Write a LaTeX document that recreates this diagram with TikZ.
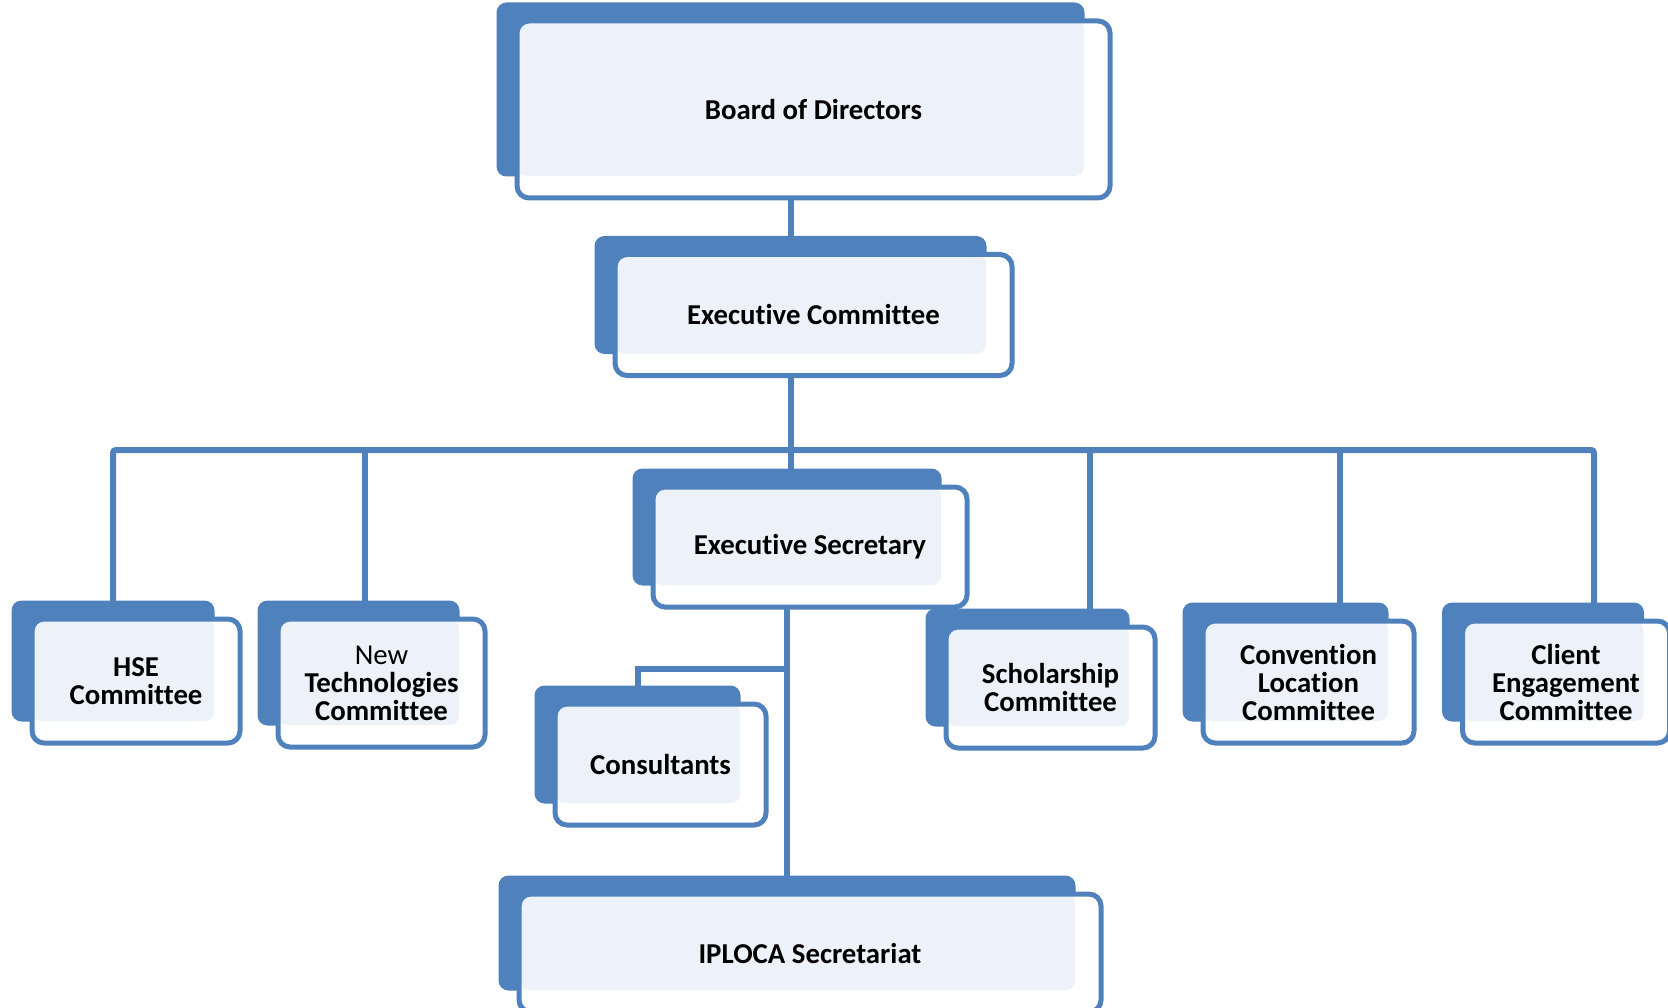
\documentclass[tikz,border=0pt]{standalone}
\usepackage{fontspec}
\setmainfont[Ligatures=NoCommon]{Carlito}
\usetikzlibrary{calc,backgrounds}
\definecolor{boxblue}{HTML}{4F81BD}
\definecolor{boxfill}{HTML}{EDF2F9}

\begin{document}
\begin{tikzpicture}[x=1pt,y=-1pt,
		box/.style={draw=boxblue,line width=5pt,fill=white,rounded corners=12pt,align=center,
			font=\fontsize{28.8}{28}\selectfont\bfseries,
			path picture={\fill[boxfill,rounded corners=9pt] (path picture bounding box.north west)
				rectangle ([shift={(-26,-22)}]path picture bounding box.south east);}},
		back/.style={fill=boxblue,rounded corners=10pt},
		link/.style={draw=boxblue,line width=6pt}]
		\useasboundingbox (0,0) rectangle (1668,1008);
		\newcommand{\bary}{450} %y of the bar
		\node[box,minimum width=593pt,minimum height=177pt] (board) at (813.5,109.5) {Board of Directors}; %top
		\node[box,minimum width=397pt,minimum height=121pt] (exec) at (813.5,315) {Executive Committee};
		\node[box,minimum width=314pt,minimum height=120pt] (sec) at (810,547) {Executive Secretary};
		\node[box,minimum width=211pt,minimum height=121pt] (cons) at (660.5,764.5) {Consultants};
		\node[box,minimum width=582pt,minimum height=118pt] (iploca) at (810,953) {IPLOCA Secretariat}; %bottom
		\node[box,minimum width=208pt,minimum height=124pt] (hse) at (136,681) {HSE\\Committee}; %committees
		\node[box,minimum width=207pt,minimum height=128pt] (newtech) at (381.5,683) {{\mdseries New}\\Technologies\\Committee};
		\node[box,minimum width=209pt,minimum height=121pt] (schol) at (1050.5,687.5) {Scholarship\\Committee};
		\node[box,minimum width=211pt,minimum height=122pt] (conv) at (1308.5,682) {Convention\\Location\\Committee};
		\node[box,minimum width=207pt,minimum height=122pt] (client) at (1566,682) {Client\\Engagement\\Committee};
		\coordinate (fork) at (788,669); %to consultants
		\foreach \i/\x in {1/113,2/365,3/1090,4/1340,5/1594}
			\coordinate (d\i) at (\x,\bary);
		\begin{pgfonlayer}{background}
			\foreach \b in {board,exec,sec,cons,iploca,hse,newtech,schol,conv,client}
				\coordinate (\b-c) at ([shift={(-23,-20)}]\b.center); %centre of back box
			\draw[link] (board-c) -- (exec-c);
			\draw[link] (exec-c) -- (exec-c |- sec-c);
			\draw[link] (sec-c) -- (iploca-c);
			\draw[link] (fork) -| (cons-c);
			\draw[link,rounded corners=3pt] (d1 |- hse-c) -- (d1) -- (d5) -- (d5 |- client-c); %bar
			\foreach \i/\b in {2/newtech,3/schol,4/conv}
				\draw[link] (d\i) -- (d\i |- \b-c);
			\foreach \b in {board,exec,sec,cons,iploca,hse,newtech,schol,conv,client}
				\fill[back] ([shift={(-18,-16)}]\b.north west) rectangle ([shift={(-28,-24)}]\b.south east);
		\end{pgfonlayer}
	\end{tikzpicture}
\end{document}
